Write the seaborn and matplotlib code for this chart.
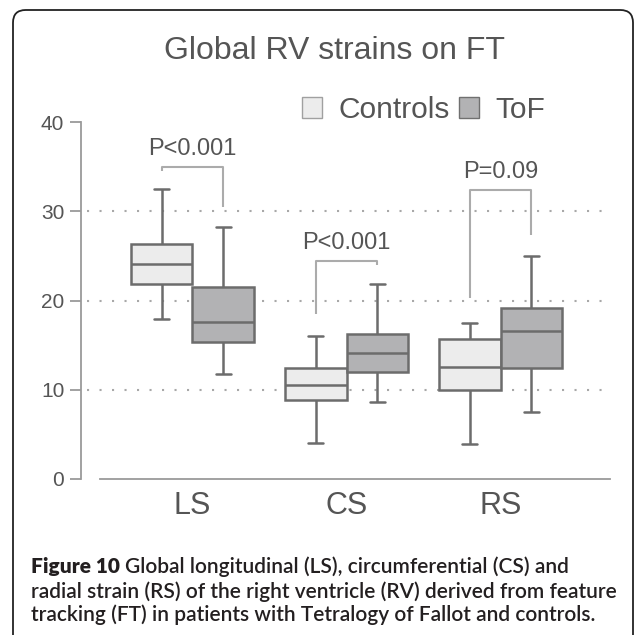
import numpy as np
import pandas as pd
import seaborn as sns
import matplotlib.pyplot as plt
from matplotlib.patches import FancyBboxPatch, Patch

# Data: min, q1, median, q3, max per strain
strains = ['LS', 'CS', 'RS']
groups = ['Controls', 'ToF']
controls = [[17.9, 21.9, 24.1, 26.3, 32.5],
            [4.0, 8.9, 10.5, 12.4, 16.0],
            [3.9, 10.0, 12.6, 15.7, 17.5]]
tof = [[11.8, 15.3, 17.6, 21.5, 28.2],
       [8.6, 12.0, 14.1, 16.2, 21.9],
       [7.5, 12.4, 16.6, 19.2, 25.0]]
p_labels = ['P<0.001', 'P<0.001', 'P=0.09']
bracket_top = [35.0, 24.4, 32.4]
bracket_left_end = [34.5, 18.5, 20.3]
bracket_right_end = [30.5, 24.0, 27.3]
y_ticks = [0, 10, 20, 30, 40]
grid_levels = [10, 20, 30]

rows = []
for i, s in enumerate(strains):
    for g, vals in zip(groups, [controls[i], tof[i]]):
        for v in vals:
            rows.append((s, g, v))
df = pd.DataFrame(rows, columns=['strain', 'group', 'value'])

sns.set_style('white')
plt.rcParams['font.family'] = ['Liberation Sans', 'DejaVu Sans']

fig = plt.figure(figsize=(6.35, 6.35), dpi=100)
ax = fig.add_axes([100/635, 1 - 479/635, 510/635, 357/635])

text_col = '#555555'
axis_col = '#9a9a9a'

for lvl in grid_levels:
    ax.axhline(lvl, xmin=-0.025, xmax=0.99, color='#a8a8a8', linewidth=1.5,
               linestyle=(0, (1, 5)), clip_on=False, zorder=0)

sns.boxplot(data=df, x='strain', y='value', hue='group', order=strains,
            hue_order=groups, palette={'Controls': '#ececec', 'ToF': '#b2b2b4'},
            whis=(0, 100), width=0.8, gap=0, linecolor='#6c6c6c', linewidth=1.8,
            showfliers=False, saturation=1, legend=False, ax=ax, capwidths=0.1)

# significance brackets
for i in range(len(strains)):
    xl, xr = i - 0.2, i + 0.2
    ax.plot([xl, xl, xr, xr],
            [bracket_left_end[i], bracket_top[i], bracket_top[i], bracket_right_end[i]],
            color='#ababab', linewidth=1.5, solid_capstyle='butt')
    ax.text(i, bracket_top[i] + 2.0, p_labels[i], ha='center', va='center',
            fontsize=17, color=text_col)

ax.set_ylim(0, 40)
ax.set_xlim(-0.6, 2.71)
ax.set_yticks(y_ticks)
ax.set_xlabel('')
ax.set_ylabel('')
for side in ['top', 'right']:
    ax.spines[side].set_visible(False)
ax.spines['left'].set_position(('outward', 13.7))
ax.spines['left'].set_color(axis_col)
ax.spines['left'].set_linewidth(1.3)
ax.spines['bottom'].set_color(axis_col)
ax.spines['bottom'].set_linewidth(1.3)
ax.tick_params(axis='y', length=8, width=1.3, color=axis_col, labelsize=15,
               labelcolor=text_col, pad=4, left=True)
ax.tick_params(axis='x', length=0, labelsize=22, labelcolor=text_col, pad=9)

handles = [Patch(facecolor='#ececec', edgecolor='#a0a0a0', label='Controls'),
           Patch(facecolor='#b2b2b4', edgecolor='#707070', label='ToF')]
fig.legend(handles=handles, loc='upper left', bbox_to_anchor=(302/635, 1 - 96/635),
           ncol=2, frameon=False, fontsize=21.5, handlelength=0.68, handleheight=0.68,
           handletextpad=0.55, columnspacing=0.3, borderpad=0, borderaxespad=0,
           labelcolor=text_col)

fig.text(334/635, 1 - 51/635, 'Global RV strains on FT', ha='center', va='center',
         fontsize=23, color=text_col)

# rounded frame
frame = FancyBboxPatch((13/635, -0.05), 620/635, 1 - 10/635 + 0.05,
                       boxstyle='round,pad=0,rounding_size=0.02',
                       transform=fig.transFigure, fill=False, edgecolor='#222222',
                       linewidth=1.3)
fig.add_artist(frame)

# caption
cap_font = ['Lato', 'DejaVu Sans']
cap_size = 15
cap_col = '#231f20'
cap_x = 31/635
bold = fig.text(cap_x, 1 - 567/635, 'Figure 10', fontsize=cap_size, weight='heavy',
                family=cap_font, va='center', color=cap_col)
renderer = fig.canvas.get_renderer()
bb = bold.get_window_extent(renderer=renderer)
fig.text(bb.x1 / fig.bbox.width + 5/635, 1 - 567/635,
         'Global longitudinal (LS), circumferential (CS) and',
         fontsize=cap_size, weight='semibold', family=cap_font, va='center', color=cap_col)
fig.text(cap_x, 1 - 592/635,
         'radial strain (RS) of the right ventricle (RV) derived from feature',
         fontsize=cap_size, weight='semibold', family=cap_font, va='center', color=cap_col)
fig.text(cap_x, 1 - 615/635,
         'tracking (FT) in patients with Tetralogy of Fallot and controls.',
         fontsize=cap_size, weight='semibold', family=cap_font, va='center', color=cap_col)

fig.savefig('out.png', dpi=100)
